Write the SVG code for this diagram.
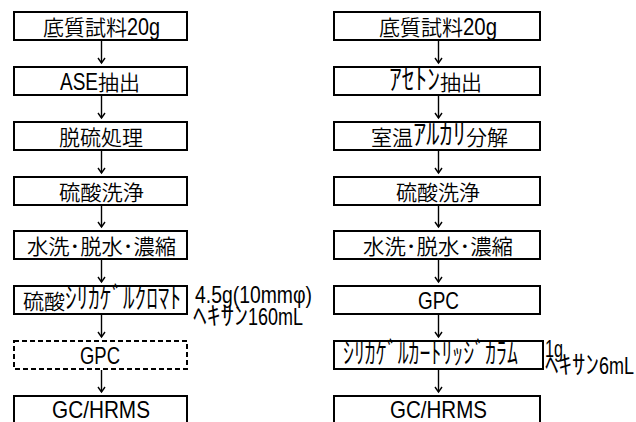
<svg xmlns="http://www.w3.org/2000/svg" width="636" height="422" viewBox="0 0 636 422">
<style>
.b{fill:#fff;stroke:#000;stroke-width:2}
.d{fill:#fff;stroke:#000;stroke-width:2;stroke-dasharray:5 3}
text{font-family:"Noto Sans CJK JP","Liberation Sans",sans-serif;font-size:21px;font-weight:350;fill:#000}
.l{font-family:"Liberation Sans","Noto Sans CJK JP",sans-serif;font-size:24px;font-weight:400}
.k{font-size:29px}
.ka{font-size:26px}
.c line,.c polyline{stroke:#000;stroke-width:1.4;fill:none}
</style>
<rect width="636" height="422" fill="#fff"/>
<g id="L1"><rect class="b" x="14" y="12" width="173" height="28"/><text y="35"><tspan x="43" textLength="84" lengthAdjust="spacingAndGlyphs">底質試料</tspan><tspan class="l" x="127" textLength="33" lengthAdjust="spacingAndGlyphs">20g</tspan></text></g>
<g id="L2"><rect class="b" x="14" y="67" width="173" height="28"/><text y="90"><tspan class="l" x="60" textLength="38" lengthAdjust="spacingAndGlyphs">ASE</tspan><tspan x="98" textLength="42" lengthAdjust="spacingAndGlyphs">抽出</tspan></text></g>
<g id="L3"><rect class="b" x="14" y="122" width="173" height="28"/><text x="59" y="145" textLength="84" lengthAdjust="spacingAndGlyphs">脱硫処理</text></g>
<g id="L4"><rect class="b" x="14" y="177" width="173" height="28"/><text x="59" y="200" textLength="85" lengthAdjust="spacingAndGlyphs">硫酸洗浄</text></g>
<g id="L5"><rect class="b" x="14" y="231" width="173" height="28"/><text x="27" y="254" textLength="149" lengthAdjust="spacingAndGlyphs">水洗･脱水･濃縮</text></g>
<g id="L6"><rect class="b" x="14" y="286" width="173" height="28"/><text y="309"><tspan x="23" textLength="42" lengthAdjust="spacingAndGlyphs">硫酸</tspan><tspan class="k" x="65" textLength="116" lengthAdjust="spacingAndGlyphs">ｼﾘｶｹﾞﾙｸﾛﾏﾄ</tspan></text></g>
<g id="L7"><rect class="d" x="14" y="341" width="173" height="28"/><text class="l" x="80" y="364" textLength="40" lengthAdjust="spacingAndGlyphs">GPC</text></g>
<g id="L8"><rect class="b" x="14" y="396" width="173" height="28"/><text class="l" x="52" y="418" textLength="98" lengthAdjust="spacingAndGlyphs">GC/HRMS</text></g>
<g id="LA"><text class="l" x="195" y="303" textLength="117" lengthAdjust="spacingAndGlyphs">4.5g(10mmφ)</text><text y="325"><tspan class="ka" x="193" textLength="55" lengthAdjust="spacingAndGlyphs">ﾍｷｻﾝ</tspan><tspan class="l" x="248" textLength="55" lengthAdjust="spacingAndGlyphs">160mL</tspan></text></g>
<g id="R1"><rect class="b" x="334" y="12" width="206" height="28"/><text y="35"><tspan x="379" textLength="84" lengthAdjust="spacingAndGlyphs">底質試料</tspan><tspan class="l" x="463" textLength="34" lengthAdjust="spacingAndGlyphs">20g</tspan></text></g>
<g id="R2"><rect class="b" x="334" y="67" width="206" height="28"/><text y="90"><tspan class="k" x="389" textLength="51" lengthAdjust="spacingAndGlyphs">ｱｾﾄﾝ</tspan><tspan x="440" textLength="42" lengthAdjust="spacingAndGlyphs">抽出</tspan></text></g>
<g id="R3"><rect class="b" x="334" y="122" width="206" height="28"/><text y="145"><tspan x="371" textLength="42" lengthAdjust="spacingAndGlyphs">室温</tspan><tspan class="k" x="413" textLength="53" lengthAdjust="spacingAndGlyphs">ｱﾙｶﾘ</tspan><tspan x="466" textLength="42" lengthAdjust="spacingAndGlyphs">分解</tspan></text></g>
<g id="R4"><rect class="b" x="334" y="177" width="206" height="28"/><text x="396" y="200" textLength="84" lengthAdjust="spacingAndGlyphs">硫酸洗浄</text></g>
<g id="R5"><rect class="b" x="334" y="231" width="206" height="28"/><text x="363" y="254" textLength="150" lengthAdjust="spacingAndGlyphs">水洗･脱水･濃縮</text></g>
<g id="R6"><rect class="b" x="334" y="286" width="206" height="28"/><text class="l" x="418" y="309" textLength="41" lengthAdjust="spacingAndGlyphs">GPC</text></g>
<g id="R7"><rect class="b" x="334" y="341" width="209" height="28"/><text class="k" x="343" y="364" textLength="175" lengthAdjust="spacingAndGlyphs">ｼﾘｶｹﾞﾙｶｰﾄﾘｯｼﾞｶﾗﾑ</text></g>
<g id="R8"><rect class="b" x="334" y="396" width="206" height="28"/><text class="l" x="390" y="418" textLength="97" lengthAdjust="spacingAndGlyphs">GC/HRMS</text></g>
<g id="RA"><text class="l" x="545" y="357" textLength="18" lengthAdjust="spacingAndGlyphs">1g</text><text y="374"><tspan class="ka" x="545" textLength="54" lengthAdjust="spacingAndGlyphs">ﾍｷｻﾝ</tspan><tspan class="l" x="599" style="font-size:23px" textLength="35" lengthAdjust="spacingAndGlyphs">6mL</tspan></text></g>
<g id="connectors" class="c">
<line x1="101.5" y1="41" x2="101.5" y2="63"/><polyline points="98,58 101.5,63 105,58"/>
<line x1="101.5" y1="96" x2="101.5" y2="118"/><polyline points="98,113 101.5,118 105,113"/>
<line x1="101.5" y1="151" x2="101.5" y2="173"/><polyline points="98,168 101.5,173 105,168"/>
<line x1="101.5" y1="206" x2="101.5" y2="227"/><polyline points="98,222 101.5,227 105,222"/>
<line x1="101.5" y1="260" x2="101.5" y2="282"/><polyline points="98,277 101.5,282 105,277"/>
<line x1="101.5" y1="315" x2="101.5" y2="337"/><polyline points="98,332 101.5,337 105,332"/>
<line x1="101.5" y1="370" x2="101.5" y2="392"/><polyline points="98,387 101.5,392 105,387"/>
<line x1="438.5" y1="41" x2="438.5" y2="63"/><polyline points="435,58 438.5,63 442,58"/>
<line x1="438.5" y1="96" x2="438.5" y2="118"/><polyline points="435,113 438.5,118 442,113"/>
<line x1="438.5" y1="151" x2="438.5" y2="173"/><polyline points="435,168 438.5,173 442,168"/>
<line x1="438.5" y1="206" x2="438.5" y2="227"/><polyline points="435,222 438.5,227 442,222"/>
<line x1="438.5" y1="260" x2="438.5" y2="282"/><polyline points="435,277 438.5,282 442,277"/>
<line x1="438.5" y1="315" x2="438.5" y2="337"/><polyline points="435,332 438.5,337 442,332"/>
<line x1="438.5" y1="370" x2="438.5" y2="392"/><polyline points="435,387 438.5,392 442,387"/>
</g>
</svg>
